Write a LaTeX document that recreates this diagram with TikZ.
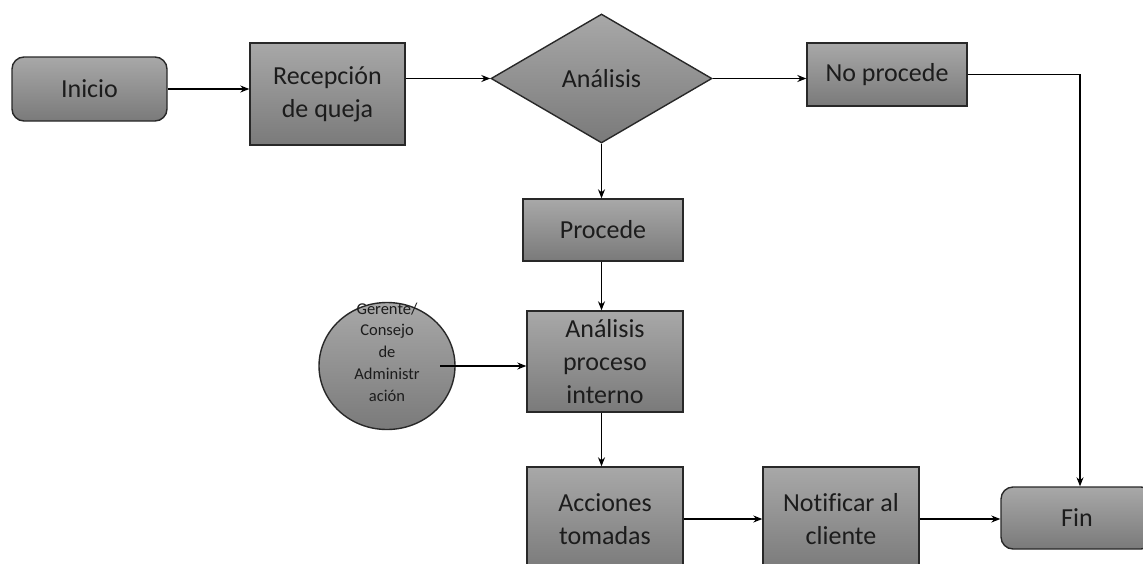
\documentclass[tikz,border=0pt]{standalone}
\usepackage{fontspec}
\setmainfont{Carlito}[Ligatures=CommonOff]
\usetikzlibrary{shapes.geometric,arrows.meta,calc}
\definecolor{boxtop}{RGB}{168,168,168}
\definecolor{boxbot}{RGB}{122,122,122}
\definecolor{edge}{RGB}{40,40,40}
\definecolor{ink}{RGB}{28,28,28}
\begin{document}
\begin{tikzpicture}[x=1pt,y=-1pt,
  base/.style={draw=edge, line width=1.4pt, top color=boxtop, bottom color=boxbot,
    text=ink, font=\fontsize{26}{33}\selectfont, align=center, inner sep=0pt},
  procbox/.style={base, rectangle},
  termbox/.style={base, rectangle, rounded corners=12pt},
  decbox/.style={base, diamond},
  actor/.style={base, ellipse},
  flow/.style={draw=black, line width=1.1pt, -{Stealth[length=9pt,width=7pt]}}]
\useasboundingbox (0,0) rectangle (1143,563);
\begin{scope}
\clip (0,0) rectangle (1143,563);
% top row
\node[termbox, minimum width=155pt, minimum height=64pt] (ini) at (89.5,89) {Inicio};
\node[procbox, minimum width=155pt, minimum height=102pt] (rec) at (327.5,94) {Recepción\\de queja};
\node[decbox, minimum width=221pt, minimum height=129pt] (ana) at (601.5,78.5) {Análisis};
\node[procbox, minimum width=160pt, minimum height=63pt] (nop) at (887,74.5) {No procede};
% middle column
\node[procbox, minimum width=160pt, minimum height=62pt] (pro) at (603,230) {Procede};
\node[procbox, minimum width=156pt, minimum height=101pt] (api) at (605,361.5) {Análisis\\proceso\\interno};
\node[actor, minimum width=136pt, minimum height=127pt] (gc) at (387,366) {};
\node[text=ink, font=\fontsize{16.5}{21.7}\selectfont, align=center, inner sep=0pt] (gct) at (387,352)
  {Gerente/\\Consejo\\de\\Administr\\ación};
\coordinate (gcout) at (440,366);
% bottom row
\node[procbox, minimum width=156pt, minimum height=104pt] (acc) at (605,519) {Acciones\\tomadas};
\node[procbox, minimum width=156pt, minimum height=104pt] (ntf) at (841,519) {Notificar al\\cliente};
\node[termbox, minimum width=152pt, minimum height=62pt] (fin) at (1077,518) {Fin};
% connectors
\draw[flow] (ini.east) -- (ini.east -| rec.west);
\draw[flow] (rec.east |- ana.west) -- (ana.west);
\draw[flow] (ana.east) -- (ana.east -| nop.west);
\draw[flow] (nop.east) -| ($(fin.north)+(3,0)$);
\draw[flow] (ana.south) -- (ana.south |- pro.north);
\draw[flow] (pro.south -| ana.south) -- (api.north -| ana.south);
\draw[flow] (api.south -| ana.south) -- (acc.north -| ana.south);
\draw[flow] (gcout) -- (gcout -| api.west);
\draw[flow] (acc.east) -- (ntf.west);
\draw[flow] (ntf.east) -- (ntf.east -| fin.west);
\end{scope}
\end{tikzpicture}
\end{document}
